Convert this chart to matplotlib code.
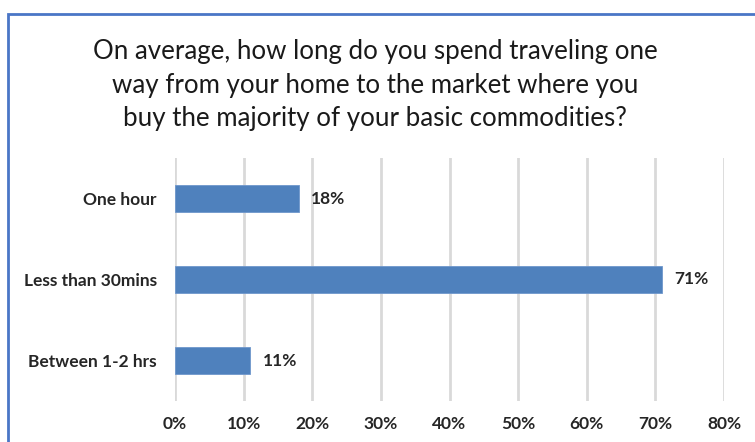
import matplotlib.pyplot as plt
from matplotlib.patches import Rectangle

# survey answers (top to bottom) and share of respondents in %
categories = ["One hour", "Less than 30mins", "Between 1-2 hrs"]
shares = [18, 71, 11]
x_ticks = [0, 10, 20, 30, 40, 50, 60, 70, 80]

title = ("On average, how long do you spend traveling one\n"
         "way from your home to the market where you\n"
         "buy the majority of your basic commodities?")

plt.rcParams["font.family"] = ["Lato", "DejaVu Sans"]

fig = plt.figure(figsize=(7.55, 4.42), dpi=100)
ax = fig.add_axes([175 / 755, 1 - 401 / 442, 549 / 755, 243 / 442])

pos = list(range(len(categories)))
ax.barh(pos, shares, height=0.345, color="#4f81bd", edgecolor="#6f97cc",
        linewidth=0.6, zorder=3)
for p, v in zip(pos, shares):
    ax.annotate(f"{v}%", (v, p), xytext=(9, 0), textcoords="offset points",
                va="center", ha="left", fontsize=12.5, fontweight="bold",
                color="#262626")

ax.set_xlim(0, 80)
ax.set_ylim(len(categories) - 0.5, -0.5)
ax.set_xticks(x_ticks)
ax.set_xticklabels([f"{t}%" for t in x_ticks], fontsize=12.5,
                   fontweight="bold", color="#262626")
ax.set_yticks(pos)
ax.set_yticklabels(categories, fontsize=12.5, fontweight="bold",
                   color="#262626")
ax.tick_params(length=0, pad=13)
ax.tick_params(axis="x", pad=11)
ax.grid(axis="x", color="#d9d9d9", linewidth=2, zorder=0)
for s in ax.spines.values():
    s.set_visible(False)

fig.text(375 / 755, 1 - 85 / 442, title, ha="center", va="center",
         fontsize=18.6, color="#1a1a1a", linespacing=1.43)

# chart frame, runs off the right and bottom edge
fig.patches.append(Rectangle((8 / 755, -0.1), 1.2, 1 - 14 / 442 + 0.1,
                             transform=fig.transFigure, fill=False,
                             edgecolor="#4a76c6", linewidth=2))

fig.savefig("out.png", dpi=100)
